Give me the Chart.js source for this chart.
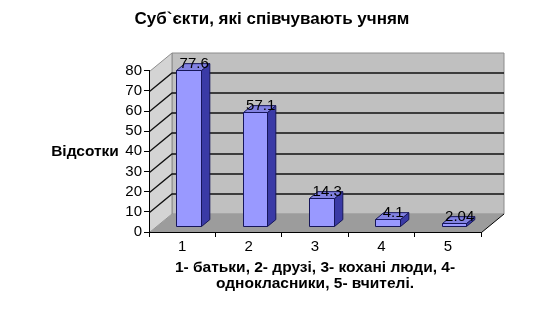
<!DOCTYPE html>
<html><head><meta charset="utf-8">
<script src="https://cdn.jsdelivr.net/npm/chart.js@4.4.1/dist/chart.umd.min.js"></script>
<style>html,body{margin:0;padding:0;background:#fff;}canvas{display:block;}</style>
</head><body>
<canvas id="c" width="533" height="318"></canvas>
<script>
const categories = ['1', '2', '3', '4', '5'];
const values = [77.6, 57.1, 14.3, 4.1, 2.04];
const valueLabels = ['77.6', '57.1', '14.3', '4.1', '2.04'];
const chartTitle = 'Суб`єкти, які співчувають учням';
const yAxisTitle = 'Відсотки';
const xAxisTitleLines = ['1- батьки, 2- друзі, 3- кохані люди, 4-', 'однокласники, 5- вчителі.'];
const yMin = 0, yMax = 80, yStep = 10;

const FONT = "'Liberation Sans', Arial, sans-serif";
const DX = 22.5, DY = -18.5;   // depth of the 3D box
const F1 = 0.28, F2 = 0.65;    // bar front/back depth fractions

function poly(ctx, pts, fill, stroke) {
  ctx.beginPath();
  ctx.moveTo(pts[0][0], pts[0][1]);
  for (let i = 1; i < pts.length; i++) ctx.lineTo(pts[i][0], pts[i][1]);
  ctx.closePath();
  if (fill) { ctx.fillStyle = fill; ctx.fill(); }
  if (stroke) { ctx.strokeStyle = stroke; ctx.lineWidth = 1; ctx.stroke(); }
}

const walls3d = {
  id: 'walls3d',
  beforeDraw(chart) {
    const {ctx, chartArea: a, scales: {y}} = chart;
    const L = a.left + 0.5, R = a.right + 0.5;
    const T = Math.round(y.getPixelForValue(yMax)) + 0.5;
    const B = Math.round(y.getPixelForValue(yMin)) + 0.5;
    ctx.save();
    poly(ctx, [[L + DX, T + DY], [R + DX, T + DY], [R + DX, B + DY], [L + DX, B + DY]], '#c0c0c0', '#8c8c8c');
    poly(ctx, [[L, T], [L + DX, T + DY], [L + DX, B + DY], [L, B]], '#d4d4d4', '#8c8c8c');
    poly(ctx, [[L, B], [L + DX, B + DY], [R + DX, B + DY], [R, B]], '#9c9c9c', null);
    ctx.beginPath();
    ctx.moveTo(R, B); ctx.lineTo(R + DX, B + DY);
    ctx.strokeStyle = '#000'; ctx.lineWidth = 1; ctx.stroke();
    ctx.beginPath();
    for (let v = yMin + yStep; v < yMax; v += yStep) {
      const py = Math.round(y.getPixelForValue(v)) + 0.5;
      ctx.moveTo(L, py);
      ctx.lineTo(L + DX, py + DY);
      ctx.lineTo(R + DX, py + DY);
    }
    ctx.strokeStyle = '#111'; ctx.lineWidth = 1.3; ctx.stroke();
    ctx.restore();
  },
  afterDatasetsDraw(chart) {
    const {ctx} = chart;
    const meta = chart.getDatasetMeta(0);
    const ox1 = F1 * DX, oy1 = F1 * DY, ddx = (F2 - F1) * DX, ddy = (F2 - F1) * DY;
    ctx.save();
    meta.data.forEach((bar, i) => {
      const {x, y, base, width} = bar.getProps(['x', 'y', 'base', 'width'], true);
      const x0 = Math.round(x - width / 2 + ox1) + 0.5;
      const x1 = Math.round(x + width / 2 + ox1) + 0.5;
      const top = Math.round(y + oy1) + 0.5;
      const bot = Math.round(base + oy1) + 0.5;
      poly(ctx, [[x1, top], [x1 + ddx, top + ddy], [x1 + ddx, bot + ddy], [x1, bot]], '#3a3aa6', '#16165a');
      poly(ctx, [[x0, top], [x1, top], [x1 + ddx, top + ddy], [x0 + ddx, top + ddy]], '#8282e2', '#16165a');
      poly(ctx, [[x0, top], [x1, top], [x1, bot], [x0, bot]], '#9999ff', '#16165a');
      ctx.font = '15px ' + FONT;
      ctx.fillStyle = '#000';
      ctx.textAlign = 'center';
      ctx.textBaseline = 'alphabetic';
      ctx.fillText(valueLabels[i], (x0 + x1) / 2 + ddx / 2 + 1, top - 3);
    });
    ctx.restore();
  },
  afterDraw(chart) {
    const {ctx} = chart;
    ctx.save();
    ctx.fillStyle = '#000';
    ctx.textAlign = 'center';
    ctx.textBaseline = 'middle';
    ctx.font = 'bold 17px ' + FONT;
    ctx.fillText(chartTitle, 272, 19);
    ctx.font = 'bold 15.5px ' + FONT;
    ctx.fillText(yAxisTitle, 85, 152);
    ctx.restore();
  }
};

new Chart(document.getElementById('c'), {
  type: 'bar',
  data: {
    labels: categories,
    datasets: [{
      data: values,
      backgroundColor: 'rgba(0,0,0,0)',
      borderWidth: 0,
      categoryPercentage: 1,
      barPercentage: 0.37
    }]
  },
  options: {
    responsive: false,
    animation: false,
    events: [],
    layout: {padding: {left: 0, right: 52, top: 70.7, bottom: 0}},
    plugins: {legend: {display: false}, title: {display: false}, tooltip: {enabled: false}},
    scales: {
      x: {
        afterFit(s) { s.height = 86; },
        grid: {display: true, drawOnChartArea: false, drawTicks: true, tickLength: 5, color: '#000', offset: true},
        border: {display: true, color: '#000', width: 1},
        ticks: {color: '#000', font: {family: FONT, size: 15}, padding: 1},
        title: {
          display: true,
          text: xAxisTitleLines,
          color: '#000',
          font: {family: FONT, size: 15.5, weight: 'bold', lineHeight: 1.05},
          padding: {top: 0, bottom: 26}
        }
      },
      y: {
        min: yMin, max: yMax,
        afterFit(s) { s.width = 149; },
        grid: {display: true, drawOnChartArea: false, drawTicks: true, tickLength: 5, color: '#000'},
        border: {display: true, color: '#000', width: 1},
        ticks: {stepSize: yStep, autoSkip: false, color: '#000', font: {family: FONT, size: 15}, padding: 2}
      }
    }
  },
  plugins: [walls3d]
});
</script>
</body></html>
